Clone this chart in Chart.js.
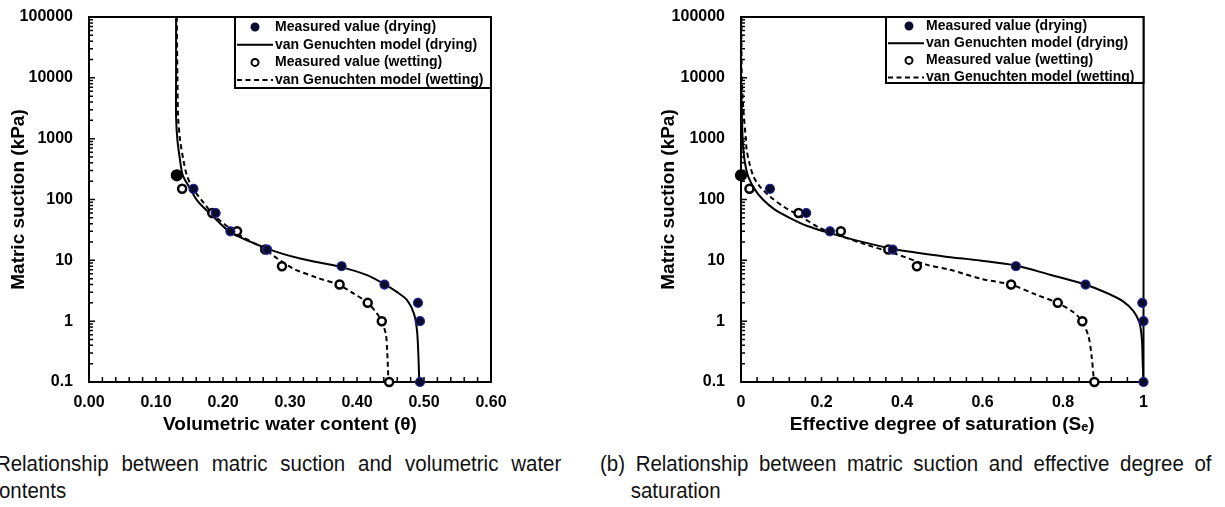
<!DOCTYPE html>
<html>
<head>
<meta charset="utf-8">
<script src="https://cdn.jsdelivr.net/npm/chart.js@4.4.1/dist/chart.umd.min.js"></script>
<style>
  body { margin: 0; background: #fff; width: 1225px; height: 507px; overflow: hidden; position: relative; font-family: "Liberation Sans", Arial, sans-serif; }
  #boxA { position: absolute; left: 0; top: 0; width: 520px; height: 445px; }
  #boxB { position: absolute; left: 640px; top: 0; width: 530px; height: 445px; }
  .cap { position: absolute; box-sizing: border-box; font-size: 22.5px; line-height: 27px; color: #111; text-align: justify; transform: scaleX(0.91); transform-origin: 0 0; }
  #capA { left: -42px; top: 450px; width: 663px; padding-left: 33.75px; text-indent: -33.75px; }
  #capB { left: 600px; top: 450px; width: 672px; padding-left: 33.75px; text-indent: -33.75px; }
</style>
</head>
<body>
<div id="boxA"><canvas id="chartA" width="520" height="445"></canvas></div>
<div id="boxB"><canvas id="chartB" width="530" height="445"></canvas></div>
<div class="cap" id="capA">(a) Relationship between matric suction and volumetric water contents</div>
<div class="cap" id="capB">(b) Relationship between matric suction and effective degree of saturation</div>
<script>
// ---- (a) 체적함수비 ----
const suctionDryA = [250, 150, 60, 30, 15, 8, 4, 2, 1, 0.1];
const thetaDryA = [0.131, 0.156, 0.189, 0.211, 0.266, 0.377, 0.441, 0.491, 0.494, 0.494];
const suctionWetA = [150, 60, 30, 15, 8, 4, 2, 1, 0.1];
const thetaWetA = [0.139, 0.184, 0.221, 0.263, 0.288, 0.374, 0.416, 0.437, 0.448];

// van Genuchten 곡선 (그림에서 읽은 점)
const vgSuctionDryA = [100000, 10000, 2260, 940, 437, 250, 151, 98, 62, 51.5, 29, 15.6, 10.7, 7.8, 5.7, 4.1, 3.0, 2.2, 1.33, 0.62, 0.1];
const vgThetaDryA = [0.130, 0.130, 0.130, 0.132, 0.136, 0.140, 0.151, 0.161, 0.178, 0.186, 0.211, 0.266, 0.315, 0.375, 0.415, 0.440, 0.460, 0.475, 0.485, 0.490, 0.493];
const vgSuctionWetA = [100000, 10000, 2260, 940, 437, 250, 151, 98, 62, 55, 27.5, 15.6, 10.7, 7.3, 5.2, 3.9, 2.84, 2.0, 1.33, 0.97, 0.62, 0.33, 0.1];
const vgThetaWetA = [0.131, 0.132, 0.133, 0.136, 0.141, 0.146, 0.155, 0.168, 0.182, 0.186, 0.221, 0.261, 0.281, 0.305, 0.340, 0.374, 0.395, 0.416, 0.430, 0.437, 0.443, 0.445, 0.447];

// ---- (b) 유효포화도 ----
const suctionDryB = [250, 150, 60, 30, 15, 8, 4, 2, 1, 0.1];
const seDryB = [0, 0.072, 0.162, 0.221, 0.377, 0.683, 0.856, 0.997, 1.0, 1.0];
const suctionWetB = [150, 60, 30, 15, 8, 4, 2, 1, 0.1];
const seWetB = [0.021, 0.143, 0.248, 0.366, 0.437, 0.671, 0.787, 0.848, 0.878];

const vgSuctionDryB = [100000, 10000, 3000, 1000, 653, 395, 238, 144, 99, 68, 49.5, 37, 28, 20.5, 15.4, 11.7, 9.9, 8.2, 5.8, 4.0, 2.9, 2.1, 1.46, 0.94, 0.5, 0.21, 0.1];
const vgSeDryB = [0, 0, 0.002, 0.004, 0.006, 0.010, 0.018, 0.035, 0.055, 0.084, 0.122, 0.163, 0.221, 0.296, 0.378, 0.500, 0.594, 0.683, 0.768, 0.855, 0.909, 0.950, 0.975, 0.990, 0.996, 0.998, 1.0];
const vgSuctionWetB = [100000, 10000, 3000, 1000, 653, 395, 238, 163, 112, 77, 56, 34, 25.4, 18, 13.2, 8.5, 7.0, 4.9, 4.0, 2.7, 2.0, 1.4, 1.0, 0.57, 0.27, 0.1];
const vgSeWetB = [0.001, 0.002, 0.006, 0.012, 0.014, 0.021, 0.031, 0.047, 0.072, 0.105, 0.142, 0.196, 0.246, 0.312, 0.378, 0.461, 0.519, 0.600, 0.670, 0.735, 0.786, 0.826, 0.847, 0.863, 0.871, 0.877];

// 축 눈금
const suctionTicks = [0.1, 1, 10, 100, 1000, 10000, 100000];
const suctionTickLabels = ['0.1', '1', '10', '100', '1000', '10000', '100000'];
const thetaTicks = [0, 0.1, 0.2, 0.3, 0.4, 0.5, 0.6];
const thetaTickLabels = ['0.00', '0.10', '0.20', '0.30', '0.40', '0.50', '0.60'];
const seTicks = [0, 0.2, 0.4, 0.6, 0.8, 1];
const seTickLabels = ['0', '0.2', '0.4', '0.6', '0.8', '1'];

const seriesLabels = ['Measured value (drying)', 'van Genuchten model (drying)', 'Measured value (wetting)', 'van Genuchten model (wetting)'];

const FONT = '"Liberation Sans", Arial, sans-serif';

function toPoints(xs, ys) {
    return xs.map(function(v, i) { return { x: v, y: ys[i] }; });
}

// 테두리 + 안쪽 눈금
const frameTicks = {
    id: 'frameTicks',
    beforeDatasetsDraw(chart, args, opts) {
        const ctx = chart.ctx;
        const a = chart.chartArea;
        const x = chart.scales.x, y = chart.scales.y;
        ctx.save();
        ctx.strokeStyle = '#000';
        ctx.lineWidth = 1.5;
        ctx.beginPath();
        const n = Math.round((x.max - x.min) / opts.xMinor);
        for (let i = 0; i <= n; i++) {
            const px = x.getPixelForValue(x.min + i * opts.xMinor);
            ctx.moveTo(px, a.bottom);
            ctx.lineTo(px, a.bottom - 5);
        }
        for (let d = y.min; d < y.max * 0.999; d *= 10) {
            for (let k = 1; k < 10; k++) {
                const py = y.getPixelForValue(d * k);
                ctx.moveTo(a.left, py);
                ctx.lineTo(a.left + (k === 1 ? 6 : 4), py);
            }
        }
        ctx.stroke();
        ctx.lineWidth = 2;
        ctx.strokeRect(a.left, a.top, a.right - a.left, a.bottom - a.top);
        ctx.restore();
    }
};

// 그래프 안쪽 범례
const boxLegend = {
    id: 'boxLegend',
    afterDraw(chart, args, opts) {
        const ctx = chart.ctx;
        const a = chart.chartArea;
        const x0 = a.right - opts.width, y0 = a.top;
        ctx.save();
        ctx.fillStyle = '#fff';
        ctx.fillRect(x0, y0, opts.width, opts.height);
        ctx.lineWidth = 2;
        ctx.strokeStyle = '#000';
        ctx.strokeRect(x0, y0, opts.width, opts.height);
        ctx.font = 'bold 14px ' + FONT;
        ctx.textBaseline = 'middle';
        chart.data.datasets.forEach(function(ds, i) {
            const yy = y0 + opts.firstRow + i * opts.rowGap;
            if (ds.showLine) {
                ctx.setLineDash(ds.borderDash || []);
                ctx.lineWidth = 2;
                ctx.strokeStyle = '#000';
                ctx.beginPath();
                ctx.moveTo(x0 + 2, yy);
                ctx.lineTo(x0 + 38, yy);
                ctx.stroke();
                ctx.setLineDash([]);
            } else {
                ctx.beginPath();
                ctx.arc(x0 + opts.markerX, yy, 3.5, 0, Math.PI * 2);
                ctx.fillStyle = ds.legendFill;
                ctx.fill();
                ctx.lineWidth = 2;
                ctx.strokeStyle = ds.legendStroke;
                ctx.stroke();
            }
            ctx.fillStyle = '#000';
            ctx.fillText(ds.label, x0 + 40, yy);
        });
        ctx.restore();
    }
};

function makeDatasets(dryX, dryY, vgDryX, vgDryY, wetX, wetY, vgWetX, vgWetY) {
    return [{
        label: seriesLabels[0],
        data: toPoints(dryX, dryY),
        showLine: false,
        pointRadius: function(c) { return c.dataIndex === 0 ? 5.5 : 4.5; },
        pointBackgroundColor: function(c) { return c.dataIndex === 0 ? '#000' : '#0b0b2e'; },
        pointBorderColor: function(c) { return c.dataIndex === 0 ? '#000' : '#23239a'; },
        pointBorderWidth: 1.2,
        legendFill: '#0b0b2e',
        legendStroke: '#0b0b2e',
        clip: false,
        order: 0
    }, {
        label: seriesLabels[1],
        data: toPoints(vgDryX, vgDryY),
        showLine: true,
        borderColor: '#000',
        borderWidth: 2,
        pointRadius: 0,
        tension: 0.3,
        order: 2
    }, {
        label: seriesLabels[2],
        data: toPoints(wetX, wetY),
        showLine: false,
        pointRadius: 4,
        pointBackgroundColor: '#fff',
        pointBorderColor: '#000',
        pointBorderWidth: 2.5,
        legendFill: '#fff',
        legendStroke: '#000',
        clip: false,
        order: 1
    }, {
        label: seriesLabels[3],
        data: toPoints(vgWetX, vgWetY),
        showLine: true,
        borderColor: '#000',
        borderWidth: 2,
        borderDash: [5, 3.5],
        pointRadius: 0,
        tension: 0.3,
        order: 3
    }];
}

function makeChart(canvasId, datasets, xCfg, legendCfg) {
    return new Chart(document.getElementById(canvasId), {
        type: 'scatter',
        data: { datasets: datasets },
        options: {
            responsive: false,
            animation: false,
            events: [],
            layout: { padding: { top: 17, left: 0, right: xCfg.padRight, bottom: 1 } },
            plugins: {
                legend: { display: false },
                tooltip: { enabled: false },
                frameTicks: { xMinor: xCfg.minor },
                boxLegend: legendCfg
            },
            scales: {
                x: {
                    type: 'linear',
                    min: xCfg.min,
                    max: xCfg.max,
                    grid: { display: false, drawTicks: false },
                    border: { display: false },
                    afterBuildTicks: function(s) { s.ticks = xCfg.ticks.map(function(v) { return { value: v }; }); },
                    afterFit: function(s) { s.height = 62; },
                    ticks: {
                        padding: 11,
                        color: '#000',
                        font: { family: FONT, size: 16, weight: 'bold' },
                        callback: function(v, i) { return xCfg.labels[i]; }
                    },
                    title: {
                        display: true,
                        text: xCfg.title,
                        color: '#000',
                        font: { family: FONT, size: 19, weight: 'bold' },
                        padding: { top: 0, bottom: 7.6 }
                    }
                },
                y: {
                    type: 'logarithmic',
                    min: 0.1,
                    max: 100000,
                    grid: { display: false, drawTicks: false },
                    border: { display: false },
                    afterBuildTicks: function(s) { s.ticks = suctionTicks.map(function(v) { return { value: v }; }); },
                    afterFit: function(s) {
                        s.width = xCfg.yWidth;
                        s.paddingTop = 0;
                        s.paddingBottom = 0;
                    },
                    ticks: {
                        padding: 16,
                        color: '#000',
                        font: { family: FONT, size: 16, weight: 'bold' },
                        callback: function(v, i) { return suctionTickLabels[i]; }
                    },
                    title: {
                        display: true,
                        text: 'Matric suction (kPa)',
                        color: '#000',
                        font: { family: FONT, size: 19, weight: 'bold' },
                        padding: { top: xCfg.yTitlePad, bottom: 0 }
                    }
                }
            }
        },
        plugins: [frameTicks, boxLegend]
    });
}

makeChart('chartA',
    makeDatasets(thetaDryA, suctionDryA, vgThetaDryA, vgSuctionDryA, thetaWetA, suctionWetA, vgThetaWetA, vgSuctionWetA),
    { min: 0, max: 0.6, minor: 0.02, ticks: thetaTicks, labels: thetaTickLabels, title: 'Volumetric water content (θ)', padRight: 29, yWidth: 89, yTitlePad: 7.6 },
    { width: 256, height: 71, firstRow: 10, rowGap: 17.7, markerX: 20 });

makeChart('chartB',
    makeDatasets(seDryB, suctionDryB, vgSeDryB, vgSuctionDryB, seWetB, suctionWetB, vgSeWetB, vgSuctionWetB),
    { min: 0, max: 1, minor: 0.04, ticks: seTicks, labels: seTickLabels, title: 'Effective degree of saturation (Sₑ)', padRight: 26.5, yWidth: 101, yTitlePad: 17.3 },
    { width: 257.5, height: 66, firstRow: 9, rowGap: 17.2, markerX: 23 });
</script>
</body>
</html>
